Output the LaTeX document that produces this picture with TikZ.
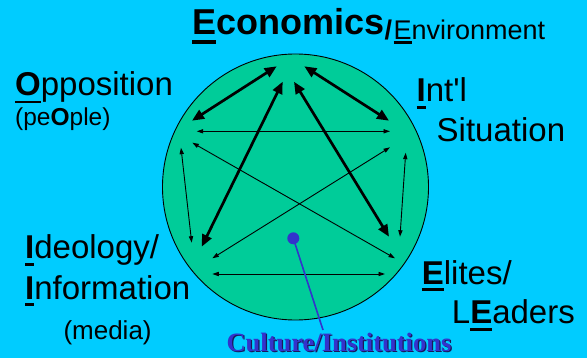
\documentclass[tikz,border=0pt]{standalone}
\usepackage{fontspec}
\setmainfont{Liberation Sans}
\newfontfamily\plainsans{Liberation Sans}[Ligatures=TeXOff]
\newfontfamily\timesfam{Liberation Serif}
\usetikzlibrary{arrows.meta}
\definecolor{bgc}{RGB}{0,204,255}
\definecolor{circc}{RGB}{0,204,153}
\definecolor{ptrc}{RGB}{51,51,204}
\definecolor{shadc}{RGB}{25,25,90}
\newsavebox\ulbox
\newcommand\myul[3]{\sbox\ulbox{#1}\rlap{\rule[\dimexpr-#2-#3\relax]{\wd\ulbox}{#3}}\usebox\ulbox}
\begin{document}
\begin{tikzpicture}[x=1pt,y=-1pt,
  lbl/.style={anchor=base west, inner sep=0pt, font=\fontsize{33}{33}\selectfont},
  thickarr/.style={line width=2.7pt, {Triangle[length=12pt,width=10pt]}-{Triangle[length=12pt,width=10pt]}},
  thinarr/.style={line width=0.9pt, {Triangle[length=6.5pt,width=4.2pt]}-{Triangle[length=6.5pt,width=4.2pt]}}]
\fill[bgc] (0,0) rectangle (587,358);
\useasboundingbox (0,0) rectangle (587,358);
% circle
\node[circle, draw=black, line width=0.9pt, fill=circc, minimum size=266pt, inner sep=0pt] (circ) at (295.5,187) {};
% endpoints
\coordinate (a1) at (276.7,66.3);  \coordinate (a2) at (192,120.7);
\coordinate (b1) at (304.3,66.3);  \coordinate (b2) at (389,120.7);
\coordinate (c1) at (196.7,131.3); \coordinate (c2) at (390,131.3);
\coordinate (d1) at (192.3,142.7); \coordinate (d2) at (395,258.3);
\coordinate (e1) at (390,147.3);   \coordinate (e2) at (212.3,258.3);
\coordinate (f1) at (181,147.7);   \coordinate (f2) at (191.7,242.7);
\coordinate (g1) at (405.7,152.7); \coordinate (g2) at (400,236.7);
\coordinate (h1) at (282.7,81.7);  \coordinate (h2) at (201.7,246.7);
\coordinate (i1) at (294,81.7);    \coordinate (i2) at (389,236.7);
\coordinate (j1) at (212.3,274);   \coordinate (j2) at (385,274);
\draw[thickarr] (a1) -- (a2);
\draw[thickarr] (b1) -- (b2);
\draw[thinarr] (c1) -- (c2);
\draw[thinarr] (d1) -- (d2);
\draw[thinarr] (e1) -- (e2);
\draw[thinarr] (f1) -- (f2);
\draw[thinarr] (g1) -- (g2);
\draw[thickarr] (h1) -- (h2);
\draw[thickarr] (i1) -- (i2);
\draw[thinarr] (j1) -- (j2);
% pointer
\node[circle, fill=ptrc, minimum size=12pt, inner sep=0pt] (dot) at (293.3,238.3) {};
\node[anchor=base, inner sep=0pt, text=shadc, font=\timesfam\bfseries\fontsize{26.5}{26.5}\selectfont] (cultsh) at (340.2,352.8) {Culture/Institutions};
\node[anchor=base, inner sep=0pt, text=ptrc, font=\timesfam\bfseries\fontsize{26.5}{26.5}\selectfont] (cult) at (339,351.6) {Culture/Institutions};
\coordinate (ptrend) at (323,330);
\draw[ptrc, line width=1.6pt] (dot.center) -- (ptrend);
% labels
\node[lbl, font=\bfseries\fontsize{36}{36}\selectfont] (econ) at (192,34.5) {\myul{E}{6pt}{3.7pt}conomics};
\node[lbl, font=\fontsize{27}{27}\selectfont] (env) at (econ.base east |- 0,39.3) {\textbf{/}\kern1.5pt\myul{E}{2.2pt}{2.4pt}nvironment};
\node[lbl] (opp) at (15,96) {\myul{\textbf{O}}{4.8pt}{2.6pt}pposition};
\node[lbl, font=\fontsize{24.5}{24.5}\selectfont] (people) at (15,125.5) {(pe\textbf{O}ple)};
\node[lbl, font=\plainsans\fontsize{33}{33}\selectfont] (intl) at (416.5,101.7) {\myul{\textbf{I}}{4.2pt}{2.7pt}nt'l};
\node[lbl] (sit) at (436.5,141.7) {Situation};
\node[lbl] (ideo) at (25,258.3) {\myul{\textbf{I}}{5pt}{2.7pt}deology/};
\node[lbl] (info) at (25,300) {\myul{\textbf{I}}{3.5pt}{2.7pt}nformation};
\node[lbl, font=\fontsize{26}{26}\selectfont] (media) at (63.3,340) {(media)};
\node[lbl] (elites) at (421.7,285) {\myul{\textbf{E}}{3pt}{3.3pt}lites/};
\node[lbl] (lead) at (451.7,323.3) {L\myul{\textbf{E}}{4.3pt}{3.5pt}aders};
\end{tikzpicture}
\end{document}
